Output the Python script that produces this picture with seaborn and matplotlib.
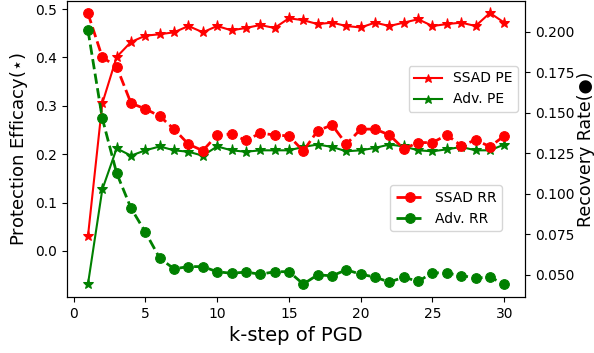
import numpy as np
import pandas as pd
import seaborn as sns
import matplotlib.pyplot as plt

# k-steps of PGD
k_steps = list(range(1, 31))

# protection efficacy (left axis)
ssad_pe = [0.030, 0.305, 0.401, 0.432, 0.445, 0.448, 0.452, 0.465, 0.452, 0.465,
           0.456, 0.461, 0.467, 0.461, 0.481, 0.477, 0.469, 0.472, 0.465, 0.462,
           0.472, 0.465, 0.472, 0.479, 0.465, 0.469, 0.472, 0.465, 0.492, 0.472]
adv_pe = [-0.069, 0.127, 0.212, 0.197, 0.208, 0.216, 0.208, 0.205, 0.197, 0.216,
          0.208, 0.205, 0.208, 0.208, 0.208, 0.215, 0.220, 0.215, 0.206, 0.208,
          0.213, 0.220, 0.216, 0.208, 0.206, 0.210, 0.215, 0.208, 0.208, 0.220]

# recovery rate (right axis)
ssad_rr = [0.2115, 0.1844, 0.1786, 0.1560, 0.1525, 0.1480, 0.1400, 0.1307, 0.1267, 0.1364,
           0.1370, 0.1330, 0.1375, 0.1364, 0.1358, 0.1265, 0.1390, 0.1426, 0.1307, 0.1400,
           0.1400, 0.1364, 0.1278, 0.1317, 0.1317, 0.1364, 0.1298, 0.1333, 0.1292, 0.1358]
adv_rr = [0.2012, 0.1467, 0.1128, 0.0912, 0.0764, 0.0603, 0.0537, 0.0551, 0.0551, 0.0519,
          0.0510, 0.0517, 0.0504, 0.0519, 0.0520, 0.0443, 0.0500, 0.0494, 0.0531, 0.0504,
          0.0486, 0.0455, 0.0486, 0.0459, 0.0514, 0.0510, 0.0496, 0.0480, 0.0486, 0.0443]

df = pd.DataFrame({'k': k_steps, 'ssad_pe': ssad_pe, 'adv_pe': adv_pe,
                   'ssad_rr': ssad_rr, 'adv_rr': adv_rr})

fig, ax = plt.subplots(figsize=(5.94, 3.53), dpi=100)
fig.subplots_adjust(left=0.113, right=0.884, top=0.997, bottom=0.159)
ax2 = ax.twinx()

# PE lines (solid, star markers)
sns.lineplot(data=df, x='k', y='ssad_pe', ax=ax, color='red', marker='*',
             markersize=8, markeredgecolor='red', linewidth=1.5, label='SSAD PE')
sns.lineplot(data=df, x='k', y='adv_pe', ax=ax, color='green', marker='*',
             markersize=8, markeredgecolor='green', linewidth=1.5, label='Adv. PE')

# RR lines (dashed, circle markers)
sns.lineplot(data=df, x='k', y='ssad_rr', ax=ax2, color='red', marker='o',
             markersize=7, markeredgecolor='red', linestyle='--', linewidth=2,
             dashes=(3.5, 1.8), label='SSAD RR')
sns.lineplot(data=df, x='k', y='adv_rr', ax=ax2, color='green', marker='o',
             markersize=7, markeredgecolor='green', linestyle='--', linewidth=2,
             dashes=(3.5, 1.8), label='Adv. RR')

ax.set_ylim(-0.095, 0.5166)
ax2.set_ylim(0.0364, 0.2191)
ax.set_yticks([0.0, 0.1, 0.2, 0.3, 0.4, 0.5])
ax2.set_yticks([0.05, 0.075, 0.1, 0.125, 0.15, 0.175, 0.2])
ax.set_xticks([0, 5, 10, 15, 20, 25, 30])

ax.set_xlabel('k-step of PGD', fontsize=14)
ax.set_ylabel(r'Protection Efficacy($\star$)', fontsize=13)
ax2.set_ylabel('Recovery Rate(●)', fontsize=12.5, labelpad=2)

ax.legend(loc='center right', bbox_to_anchor=(1.0, 0.703), fontsize=10,
          markerscale=0.8)
ax2.legend(loc='center right', bbox_to_anchor=(0.965, 0.30), fontsize=10)

plt.savefig('out.png', dpi=100)
